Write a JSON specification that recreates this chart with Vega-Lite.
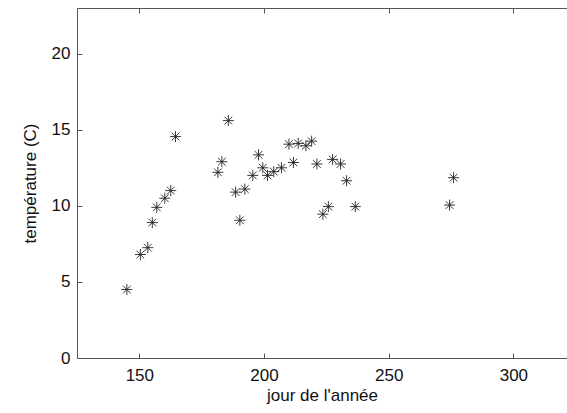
{
  "$schema": "https://vega.github.io/schema/vega-lite/v6.json",
  "width": 490,
  "height": 350,
  "autosize": {"type": "none"},
  "padding": {"left": 77, "top": 8, "right": 0, "bottom": 55},
  "background": "white",
  "config": {
    "view": {"stroke": null},
    "font": "Liberation Sans",
    "axis": {
      "domainColor": "#555555",
      "domainWidth": 1,
      "tickColor": "#555555",
      "tickSize": -5,
      "grid": false,
      "labelFont": "Liberation Sans",
      "labelFontSize": 17,
      "labelColor": "#111111",
      "titleFont": "Liberation Sans",
      "titleFontSize": 17,
      "titleFontWeight": "normal",
      "titleColor": "#111111"
    }
  },
  "data": {
    "values": [
      {"jour": 145.0, "temp": 4.5},
      {"jour": 150.4, "temp": 6.8},
      {"jour": 153.4, "temp": 7.25},
      {"jour": 155.2, "temp": 8.9},
      {"jour": 157.0, "temp": 9.9},
      {"jour": 160.2, "temp": 10.5},
      {"jour": 162.6, "temp": 11.0},
      {"jour": 164.5, "temp": 14.55},
      {"jour": 181.5, "temp": 12.2},
      {"jour": 183.1, "temp": 12.9},
      {"jour": 185.7, "temp": 15.6},
      {"jour": 188.6, "temp": 10.9},
      {"jour": 190.3, "temp": 9.05},
      {"jour": 192.3, "temp": 11.1},
      {"jour": 195.5, "temp": 12.0},
      {"jour": 197.8, "temp": 13.35},
      {"jour": 199.5, "temp": 12.5},
      {"jour": 201.4, "temp": 12.0},
      {"jour": 203.9, "temp": 12.25},
      {"jour": 207.0, "temp": 12.5},
      {"jour": 210.0, "temp": 14.05},
      {"jour": 211.8, "temp": 12.85},
      {"jour": 213.7, "temp": 14.1},
      {"jour": 216.8, "temp": 13.95},
      {"jour": 219.1, "temp": 14.25},
      {"jour": 221.2, "temp": 12.75},
      {"jour": 223.6, "temp": 9.45},
      {"jour": 225.8, "temp": 9.95},
      {"jour": 227.5, "temp": 13.05},
      {"jour": 230.7, "temp": 12.75},
      {"jour": 233.1, "temp": 11.65},
      {"jour": 236.6, "temp": 9.95},
      {"jour": 274.4, "temp": 10.05},
      {"jour": 276.0, "temp": 11.85}
    ]
  },
  "layer": [
    {
      "mark": {
        "type": "point",
        "shape": "M-1,0L1,0M0,-1L0,1M-0.7,-0.7L0.7,0.7M-0.7,0.7L0.7,-0.7",
        "filled": false,
        "stroke": "#222222",
        "strokeWidth": 0.9,
        "size": 121,
        "opacity": 1
      },
      "encoding": {
        "x": {
          "field": "jour",
          "type": "quantitative",
          "scale": {"domain": [125, 321.5], "nice": false, "zero": false},
          "axis": {
            "orient": "bottom",
            "values": [150, 200, 250, 300],
            "title": "jour de l'année",
            "labelPadding": 14,
            "titlePadding": 4
          }
        },
        "y": {
          "field": "temp",
          "type": "quantitative",
          "scale": {"domain": [0, 23], "nice": false, "zero": false},
          "axis": {
            "orient": "left",
            "values": [0, 5, 10, 15, 20],
            "title": "température (C)",
            "labelPadding": 12,
            "titlePadding": 12
          }
        }
      }
    },
    {
      "mark": {"type": "point", "opacity": 0},
      "encoding": {
        "x": {
          "field": "jour",
          "type": "quantitative",
          "axis": {
            "orient": "top",
            "values": [150, 200, 250, 300],
            "labels": false,
            "title": null
          }
        },
        "y": {"field": "temp", "type": "quantitative"}
      }
    }
  ],
  "resolve": {"axis": {"x": "independent"}}
}
